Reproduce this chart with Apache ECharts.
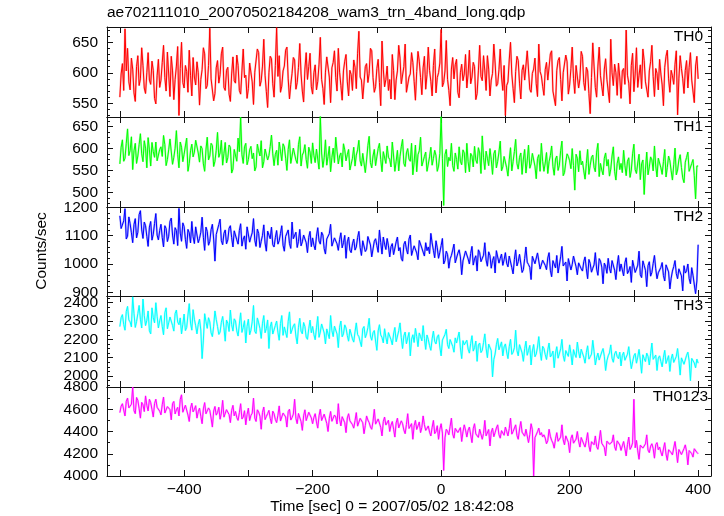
<!DOCTYPE html>
<html>
<head>
<meta charset="utf-8">
<script src="https://cdn.jsdelivr.net/npm/echarts@6/dist/echarts.min.js"></script>
<style>html,body{margin:0;padding:0;background:#fff}#c{width:724px;height:516px}</style>
</head>
<body>
<div id="c"></div>
<script>
// ---- data (sampled every 2 s from t = -500 s to t = 400 s) ----
const TIME_START = -500;
const TIME_STEP = 2;

const th0 = [
560,598,615,571,672,603,640,585,572,624,606,567,553,610,628,579,590,641,612,575,566,600,633,588,581,619,604,558,549,595,
622,576,588,617,645,592,570,634,598,561,627,603,556,589,611,643,530,607,650,584,575,612,602,568,637,596,562,625,593,580,
618,600,547,589,605,641,631,574,579,612,673,590,588,554,566,608,620,583,597,631,642,576,571,604,609,565,553,598,626,587,
583,629,612,571,565,603,639,592,596,558,574,616,617,585,548,601,604,639,633,578,587,611,655,596,569,543,600,627,623,582,
560,612,674,594,628,568,578,603,611,637,642,590,557,581,599,625,621,573,584,609,648,598,570,552,606,633,589,610,632,577,
565,600,613,572,586,614,658,589,574,548,601,626,625,593,551,608,617,636,592,570,640,601,579,555,603,619,630,585,562,604,
597,571,621,609,574,632,668,593,588,557,560,610,615,584,599,640,636,592,568,577,607,622,584,546,652,606,577,589,611,571,
589,557,630,604,556,588,603,645,624,582,581,610,647,568,570,593,598,633,617,586,555,602,635,619,592,564,608,627,573,597,
642,604,586,562,612,639,567,592,600,616,671,577,584,603,653,589,571,546,606,625,590,613,622,568,559,600,614,587,598,630,
575,598,637,582,593,617,610,556,566,603,645,594,587,628,603,571,628,606,562,588,599,647,616,578,582,605,639,593,571,612,
530,579,585,621,650,598,574,551,602,627,620,583,557,604,613,588,591,636,634,573,568,599,606,624,582,561,647,602,595,578,
563,605,617,588,589,631,636,570,572,546,604,620,625,589,554,600,598,629,618,565,580,607,642,591,566,612,609,575,590,635,
627,584,571,609,603,566,533,592,649,611,576,560,611,642,595,578,562,606,623,589,588,551,655,600,579,614,600,563,616,593,
558,603,607,581,670,596,583,549,612,632,569,598,641,576,596,613,574,639,620,585,587,560,603,618,645,594,561,607,599,572,
622,598,580,546,609,627,637,590,568,604,595,581,614,636,531,590,628,607,590,566,604,620,575,609,633,588,586,551,611,627,
590];

const th1 = [
565,603,620,571,578,612,645,584,596,627,552,595,612,566,583,609,634,588,570,618,601,556,625,597,560,614,593,580,615,572,
572,598,604,582,630,609,561,575,597,622,618,564,580,601,641,587,556,615,603,570,587,606,624,548,566,595,610,581,592,619,
618,590,569,606,600,565,548,597,626,574,583,612,607,559,571,596,637,580,590,619,562,589,614,567,579,608,603,544,553,598,
598,571,624,593,672,586,566,604,612,563,575,597,605,577,590,549,558,610,595,583,618,556,570,599,602,574,584,605,631,588,
561,587,596,562,615,594,572,611,604,578,550,598,620,566,583,601,598,574,566,609,627,560,585,592,609,575,555,603,592,566,
613,584,568,599,596,553,674,590,557,579,620,562,582,605,547,580,601,568,626,594,565,583,590,558,611,597,572,586,598,551,
551,578,603,560,585,597,619,572,560,589,592,545,574,607,628,568,556,583,598,561,581,600,612,575,547,593,590,566,606,580,
575,558,615,583,548,571,596,549,582,604,621,566,559,590,600,576,571,612,540,569,608,547,586,595,626,560,563,582,592,548,
552,581,603,562,577,596,584,548,560,589,673,578,470,586,598,559,580,572,612,561,548,590,575,553,604,571,563,597,590,545,
612,570,547,589,583,558,605,574,566,602,590,543,629,579,552,594,578,561,600,575,541,588,596,556,571,592,617,549,558,582,
585,556,537,574,602,549,570,593,621,566,553,580,590,541,576,598,544,572,608,555,565,589,593,560,531,577,586,548,612,571,
548,567,591,543,570,584,606,559,539,576,583,550,562,595,617,538,545,569,588,582,572,554,600,561,505,587,578,547,595,563,
571,549,530,566,598,541,562,580,585,557,547,592,612,536,566,551,540,578,590,560,575,537,553,583,604,548,528,566,581,552,
566,545,596,562,538,571,579,534,551,588,610,552,543,567,587,529,565,574,495,553,592,540,558,581,574,549,606,560,535,578,
580,556,541,570,598,535,557,583,572,549,528,563,601,540,551,574,586,557,533,522,569,580,592,548,545,566,575,538,485,560,
560];

const th2 = [
1170,1125,1130,1152,1195,1088,1098,1166,1142,1110,1075,1139,1160,1092,1112,1174,1188,1120,1090,1148,1135,1097,1062,1130,1150,1084,1105,1143,1178,1102,
1085,1118,1140,1093,1060,1135,1125,1079,1098,1150,1162,1102,1070,1128,1118,1065,1196,1109,1080,1145,1132,1087,1055,1122,1110,1074,1150,1096,1072,1131,
1128,1075,1090,1112,1165,1094,1048,1130,1115,1066,1080,1121,1140,1088,1010,1104,1105,1139,1158,1082,1068,1108,1120,1071,1085,1126,1135,1093,1060,1117,
1112,1085,1070,1118,1142,1063,1088,1099,1052,1131,1125,1077,1095,1110,1160,1084,1062,1123,1108,1058,1080,1101,1138,1074,1045,1116,1102,1089,1130,1068,
1060,1093,1118,1070,1082,1108,1135,1066,1045,1097,1100,1120,1072,1055,1148,1089,1090,1112,1058,1080,1122,1064,1078,1102,1105,1075,1040,1094,1115,1061,
1092,1066,1050,1098,1128,1081,1070,1112,1102,1054,1035,1088,1085,1107,1140,1063,1062,1092,1098,1071,1048,1086,1110,1057,1075,1101,1020,1078,1095,1049,
1040,1071,1088,1049,1060,1093,1115,1058,1030,1082,1078,1044,1052,1097,1098,1067,1025,1053,1080,1089,1065,1041,1120,1076,1035,1095,1070,1051,1090,1064,
1025,1061,1072,1033,1040,1078,1095,1046,1058,1020,1010,1069,1080,1052,1035,1088,1102,1030,1048,1064,1068,1039,1015,1083,1085,1056,1042,1028,1075,1047,
1060,1036,1108,1074,1048,1022,1082,1057,1020,1041,1065,1090,1000,1012,1045,1033,985,1018,1030,1049,1070,1004,1008,1038,1050,1025,962,1011,1028,1046,
1045,1018,1000,1037,1062,996,1018,1029,975,1050,1040,1008,1005,1031,1075,1014,992,1043,1030,985,1012,1026,968,1047,1052,1003,1020,1035,995,1015,
1040,1003,990,1028,1025,987,965,1016,1050,993,1008,1034,1032,970,980,1019,1060,1006,998,988,945,1027,1022,1001,1005,1039,1045,982,975,1013,
1018,995,980,1021,1040,978,955,1012,1008,986,1030,968,972,1025,1062,993,990,1007,940,1019,1015,979,998,1028,1035,990,962,1004,1010,983,
975,1008,1025,983,948,1016,1002,971,985,997,1040,982,960,1019,1010,989,930,1003,992,967,1020,985,968,1012,1005,978,945,996,1030,974,
1000,979,958,1004,1022,966,975,991,935,1013,1010,970,982,996,1045,962,952,1011,995,978,920,994,1008,957,970,1002,1030,983,948,969,
965,988,1005,959,940,997,990,972,912,950,975,991,1012,966,948,983,985,958,905,994,968,976,1000,949,930,987,960,962,895,940,
1068];

const th3 = [
2270,2318,2335,2281,2250,2352,2380,2306,2295,2268,2432,2341,2265,2297,2340,2385,2310,2262,2420,2330,2275,2304,2355,2247,2230,2372,2318,2290,2400,2326,
2262,2301,2330,2270,2225,2345,2372,2258,2290,2322,2315,2276,2245,2340,2360,2295,2280,2317,2230,2282,2338,2248,2265,2333,2395,2289,2250,2362,2310,2274,
2230,2282,2310,2251,2095,2196,2340,2297,2260,2318,2295,2236,2215,2272,2355,2309,2270,2227,2240,2293,2325,2264,2190,2305,2288,2243,2360,2280,2245,2312,
2300,2246,2218,2284,2345,2238,2265,2302,2180,2271,2310,2225,2250,2296,2385,2244,2232,2317,2290,2259,2205,2288,2330,2236,2260,2306,2150,2268,2295,2229,
2225,2276,2300,2239,2195,2287,2330,2222,2268,2261,2210,2298,2350,2231,2240,2274,2285,2218,2175,2266,2315,2245,2230,2292,2270,2212,2200,2258,2305,2236,
2270,2226,2198,2263,2325,2211,2240,2284,2290,2235,2175,2257,2260,2204,2330,2248,2215,2272,2280,2229,2155,2266,2300,2214,2230,2279,2262,2221,2190,2255,
2250,2203,2185,2241,2290,2226,2215,2187,2160,2258,2270,2209,2230,2264,2315,2218,2195,2236,2248,2191,2140,2246,2280,2224,2210,2181,2258,2212,2175,2237,
2232,2198,2170,2229,2265,2187,2195,2247,2290,2209,2150,2219,2240,2176,2180,2238,2110,2201,2225,2183,2260,2216,2160,2235,2215,2192,2275,2206,2145,2224,
2200,2166,2140,2203,2245,2189,2175,2214,2225,2158,2110,2196,2190,2227,2255,2171,2150,2199,2205,2162,2130,2208,2180,2185,2240,2153,2095,2193,2170,2176,
2195,2147,2125,2178,2220,2136,2155,2191,2080,2169,2180,2128,2140,2183,2230,2152,2100,2174,2165,2138,1995,2090,2120,2171,2205,2143,2150,2186,2110,2159,
2175,2131,2095,2160,2200,2118,2130,2154,2250,2139,2110,2171,2165,2126,2080,2149,2190,2113,2140,2167,2060,2137,2172,2105,2120,2158,2215,2133,2085,2162,
2150,2117,2090,2143,2180,2104,2115,2136,2045,2125,2160,2097,2105,2148,2200,2112,2080,2139,2135,2107,2170,2121,2060,2144,2120,2101,2185,2132,2098,2146,
2140,2103,2070,2128,2165,2092,2105,2119,2195,2134,2060,2100,2125,2087,2090,2131,2150,2108,2030,2083,2110,2126,2170,2097,2075,2121,2135,2106,2095,2130,
2055,2112,2130,2086,2080,2119,2160,2094,2040,2077,2110,2123,2070,2103,2145,2088,2015,2116,2095,2079,2125,2107,2060,2121,2180,2091,2085,2114,2030,2098,
2110,2079,2050,2102,2140,2068,2075,2111,2025,2093,2120,2074,2065,2107,2150,2085,2005,2099,2090,2064,2060,2113,2130,2082,1975,2096,2100,2071,2045,2092,
2070];

const th0123 = [
4570,4628,4650,4593,4540,4671,4700,4612,4600,4645,4800,4588,4560,4706,4680,4605,4520,4662,4640,4579,4720,4634,4585,4690,4660,4598,4530,4651,4690,4617,
4625,4583,4550,4641,4710,4566,4580,4624,4640,4597,4505,4652,4670,4558,4595,4617,4540,4689,4730,4573,4570,4636,4620,4548,4490,4609,4655,4576,4600,4632,
4520,4578,4610,4537,4470,4603,4660,4559,4550,4612,4590,4521,4440,4584,4625,4547,4570,4618,4510,4566,4680,4529,4545,4596,4600,4552,4480,4589,4635,4541,
4580,4526,4500,4569,4650,4512,4530,4587,4460,4553,4610,4498,4545,4564,4700,4521,4490,4595,4575,4538,4420,4572,4620,4507,4535,4561,4590,4519,4470,4583,
4560,4508,4480,4547,4630,4494,4510,4566,4570,4531,4440,4579,4600,4503,4525,4556,4690,4517,4470,4562,4550,4489,4410,4541,4595,4498,4515,4573,4580,4522,
4470,4527,4560,4486,4430,4541,4600,4498,4495,4556,4540,4473,4400,4519,4580,4492,4480,4548,4530,4467,4650,4511,4450,4533,4520,4479,4390,4522,4560,4496,
4510,4462,4430,4497,4570,4448,4460,4518,4520,4479,4380,4455,4540,4503,4480,4441,4420,4492,4600,4466,4450,4513,4500,4437,4360,4489,4530,4458,4470,4501,
4400,4458,4490,4421,4350,4477,4520,4432,4440,4496,4470,4413,4380,4463,4560,4427,4420,4471,4330,4452,4500,4418,4450,4486,4390,4437,4540,4461,4410,4429,
4450,4394,4360,4437,4500,4381,4400,4452,4330,4419,4470,4386,4050,4343,4420,4402,4370,4446,4520,4378,4340,4428,4440,4391,4390,4435,4310,4397,4460,4413,
4350,4412,4440,4369,4300,4425,4470,4378,4380,4347,4420,4406,4330,4383,4500,4361,4360,4418,4270,4395,4430,4353,4390,4431,4460,4372,4340,4408,4410,4366,
4440,4401,4360,4427,4520,4376,4400,4412,4460,4365,4330,4423,4490,4394,4380,4358,4420,4411,4300,4372,4470,4416,4000,4345,4350,4398,4430,4369,4390,4352,
4370,4341,4290,4318,4420,4356,4320,4297,4250,4335,4390,4312,4310,4349,4460,4325,4280,4361,4350,4303,4210,4338,4370,4295,4300,4332,4400,4314,4260,4346,
4340,4287,4260,4319,4390,4272,4220,4308,4310,4281,4360,4265,4240,4322,4410,4294,4290,4258,4180,4313,4330,4286,4270,4306,4370,4263,4230,4316,4300,4279,
4230,4271,4310,4246,4180,4283,4350,4239,4260,4298,4690,4254,4320,4226,4150,4277,4280,4251,4240,4289,4370,4233,4210,4268,4290,4247,4160,4282,4300,4236,
4260,4214,4180,4243,4300,4197,4140,4236,4230,4209,4190,4252,4310,4221,4120,4238,4250,4193,4200,4247,4280,4218,4100,4229,4230,4201,4170,4245,4260,4212,
4200];

const panelNames = ['TH0', 'TH1', 'TH2', 'TH3', 'TH0123'];
const seriesValues = [th0, th1, th2, th3, th0123];

// tick values / labels
const xTickValues = [-500, -400, -300, -200, -100, 0, 100, 200, 300, 400];
const xLabelValues = [-400, -200, 0, 200, 400];
const yLabelValues = [
  [550, 600, 650],
  [500, 550, 600, 650],
  [900, 1000, 1100, 1200],
  [2000, 2100, 2200, 2300, 2400],
  [4000, 4200, 4400, 4600, 4800]
];
const yMinorValues = [
  [530, 540, 560, 570, 580, 590, 610, 620, 630, 640, 660, 670],
  [475, 487.5, 512.5, 525, 537.5, 562.5, 575, 587.5, 612.5, 625, 637.5, 662.5],
  [920, 940, 960, 980, 1020, 1040, 1060, 1080, 1120, 1140, 1160, 1180],
  [1950, 1975, 2025, 2050, 2075, 2125, 2150, 2175, 2225, 2250, 2275, 2325, 2350, 2375, 2425],
  [4100, 4300, 4500, 4700]
];
const yRanges = [[527.5, 675], [466.4, 672.2], [887, 1201], [1940, 2436.6], [4000, 4800]];
const xRange = [-520, 420];

// ---- layout / style ----
const colors = ['#ff0000', '#00ff00', '#0000ff', '#00ffff', '#ff00ff'];
const FONT = 'Liberation Sans, Arial, Helvetica, sans-serif';
const FS = 15.5;
const LEFT = 107, WIDTH = 604;
const tops = [27, 117, 207, 296, 387];
const heights = [90, 90, 89, 91, 89];
const FRAME = '#111';

const grids = [], xAxes = [], yAxes = [], series = [], graphics = [];
const fmtNum = v => (v < 0 ? '\u2212' + Math.abs(v) : String(v));

for (let i = 0; i < 5; i++) {
  grids.push({ left: LEFT, width: WIDTH, top: tops[i], height: heights[i], containLabel: false });
  const isLast = i === 4;
  xAxes.push({
    type: 'value', gridIndex: i, position: 'bottom', min: xRange[0], max: xRange[1],
    axisLine: { show: true, onZero: false, lineStyle: { color: FRAME, width: 1 } },
    axisTick: { show: true, inside: true, length: 6, customValues: xTickValues, lineStyle: { color: FRAME } },
    axisLabel: { show: isLast, customValues: xLabelValues, formatter: fmtNum, color: '#000',
      fontFamily: FONT, fontSize: FS, margin: 6 },
    splitLine: { show: false }
  });
  xAxes.push({
    type: 'value', gridIndex: i, position: 'top', min: xRange[0], max: xRange[1],
    axisLine: { show: true, onZero: false, lineStyle: { color: FRAME, width: 1 } },
    axisTick: { show: true, inside: true, length: 6, customValues: xTickValues, lineStyle: { color: FRAME } },
    axisLabel: { show: false },
    splitLine: { show: false }
  });
  const yr = yRanges[i];
  const mkY = (pos, major, showLabel) => ({
    type: 'value', gridIndex: i, position: pos, min: yr[0], max: yr[1], offset: 0,
    axisLine: { show: major, onZero: false, lineStyle: { color: FRAME, width: 1 } },
    axisTick: { show: true, inside: true, length: major ? 6 : 3,
      customValues: major ? yLabelValues[i] : yMinorValues[i], lineStyle: { color: FRAME } },
    axisLabel: { show: showLabel, customValues: yLabelValues[i], formatter: fmtNum, color: '#000',
      fontFamily: FONT, fontSize: FS, margin: 9 },
    splitLine: { show: false }
  });
  yAxes.push(mkY('left', true, true));
  yAxes.push(mkY('left', false, false));
  yAxes.push(mkY('right', true, false));
  yAxes.push(mkY('right', false, false));

  const pts = seriesValues[i].map((v, k) => [TIME_START + k * TIME_STEP, v]);
  series.push({
    type: 'line', xAxisIndex: 2 * i, yAxisIndex: 4 * i,
    showSymbol: false, symbol: 'none', clip: true, z: 1,
    lineStyle: { color: colors[i], width: 2, opacity: 0.3 },
    data: pts, animation: false, silent: true
  });
  series.push({
    type: 'line', name: panelNames[i], xAxisIndex: 2 * i, yAxisIndex: 4 * i,
    showSymbol: false, symbol: 'none', clip: true, z: 2,
    lineStyle: { color: colors[i], width: 1 },
    itemStyle: { color: colors[i] },
    data: pts, animation: false, silent: true
  });

  graphics.push({
    type: 'text', right: isLast ? 16 : 21, top: tops[i] + 2,
    style: { text: panelNames[i], font: FS + 'px ' + FONT, fill: '#000' }
  });
}

graphics.push({
  type: 'text', left: 107, top: 5,
  style: { text: 'ae702111010_20070502184208_wam3_trn_4band_long.qdp', font: FS + 'px ' + FONT, fill: '#000' }
});
graphics.push({
  type: 'text', x: 392, y: 507,
  style: { text: 'Time [sec] 0 = 2007/05/02 18:42:08', font: FS + 'px ' + FONT, fill: '#000',
    textAlign: 'center', textVerticalAlign: 'middle' }
});
graphics.push({
  type: 'text', x: 42, y: 251, rotation: Math.PI / 2,
  style: { text: 'Counts/sec', font: FS + 'px ' + FONT, fill: '#000',
    textAlign: 'center', textVerticalAlign: 'middle' }
});

const chart = echarts.init(document.getElementById('c'), null, { renderer: 'canvas' });
chart.setOption({
  backgroundColor: '#fff',
  animation: false,
  grid: grids,
  xAxis: xAxes,
  yAxis: yAxes,
  series: series,
  graphic: graphics
});
</script>
</body>
</html>
